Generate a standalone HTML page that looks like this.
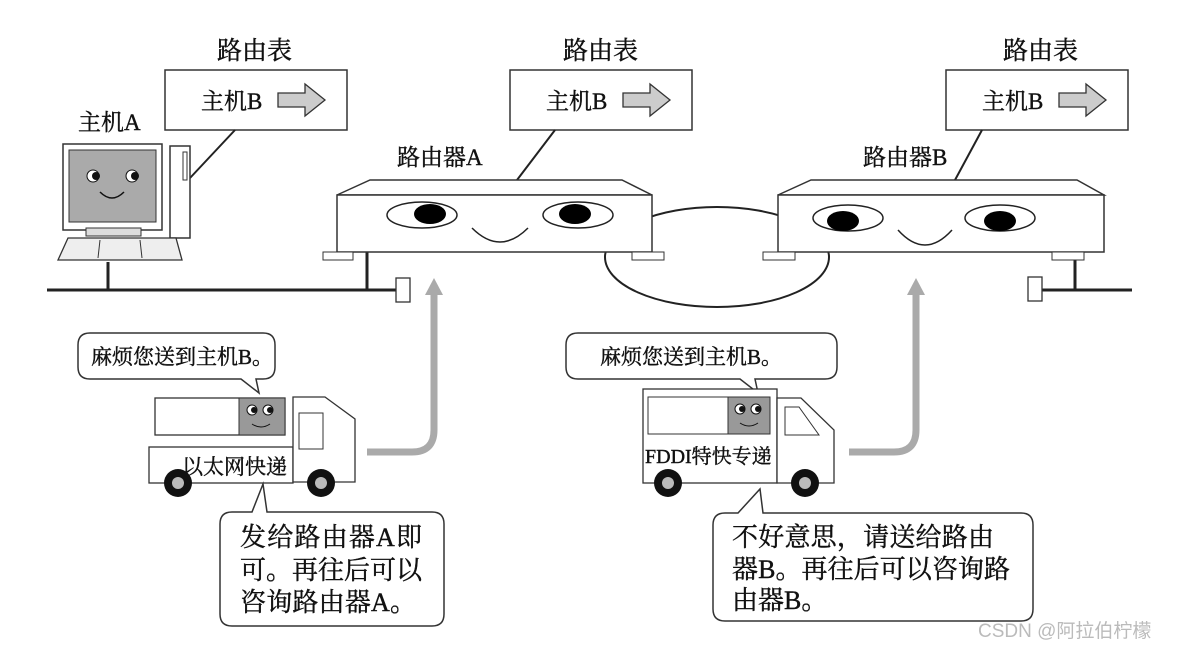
<!DOCTYPE html>
<html><head><meta charset="utf-8"><style>
html,body{margin:0;padding:0;background:#fff;}
svg{display:block;}
text{font-family:"Liberation Serif","Noto Serif CJK SC","Noto Sans CJK SC",serif;fill:#111;stroke:#111;stroke-width:0.4;}
</style></head><body>
<svg width="1179" height="649" viewBox="0 0 1179 649" xmlns="http://www.w3.org/2000/svg">
<defs>
<g id="tbl">
  <rect x="0" y="0" width="182" height="60" fill="#fff" stroke="#333" stroke-width="1.5"/>
  <text x="36" y="39" font-size="23">主机B</text>
  <path d="M113,23 h27 v-9 l20,16 l-20,16 v-9 h-27 z" fill="#ccc" stroke="#333" stroke-width="1.3"/>
</g>
<g id="eye">
  <ellipse cx="0" cy="0" rx="35" ry="13" fill="#fff" stroke="#222" stroke-width="1.5"/>
</g>
<g id="wheel">
  <circle r="14" fill="#111"/><circle r="6" fill="#bbb"/>
</g>
</defs>

<text x="217" y="59" font-size="25">路由表</text>
<text x="563" y="59" font-size="25">路由表</text>
<text x="1003" y="59" font-size="25">路由表</text>
<use href="#tbl" x="165" y="70"/>
<use href="#tbl" x="510" y="70"/>
<use href="#tbl" x="946" y="70"/>
<text x="78" y="130" font-size="23">主机A</text>
<text x="397" y="165" font-size="23">路由器A</text>
<text x="863" y="165" font-size="23">路由器B</text>

<line x1="190" y1="178" x2="235" y2="130" stroke="#222" stroke-width="2"/>
<line x1="517" y1="180" x2="555" y2="130" stroke="#222" stroke-width="2"/>
<line x1="955" y1="180" x2="982" y2="130" stroke="#222" stroke-width="2"/>

<line x1="47" y1="290" x2="398" y2="290" stroke="#222" stroke-width="3"/>
<line x1="108" y1="262" x2="108" y2="290" stroke="#222" stroke-width="3"/>
<line x1="367" y1="252" x2="367" y2="290" stroke="#222" stroke-width="3"/>
<rect x="396" y="278" width="14" height="24" fill="#fff" stroke="#333" stroke-width="1.3"/>
<line x1="1042" y1="290" x2="1132" y2="290" stroke="#222" stroke-width="3"/>
<line x1="1075" y1="252" x2="1075" y2="290" stroke="#222" stroke-width="3"/>
<rect x="1028" y="277" width="14" height="24" fill="#fff" stroke="#333" stroke-width="1.3"/>

<ellipse cx="717" cy="257" rx="112" ry="50" fill="none" stroke="#222" stroke-width="2"/>

<rect x="63" y="144" width="99" height="86" fill="#fff" stroke="#333" stroke-width="1.5"/>
<rect x="69" y="150" width="87" height="72" fill="#aaa" stroke="#333" stroke-width="1"/>
<circle cx="93" cy="176" r="6" fill="#fff" stroke="#111"/><circle cx="96" cy="176" r="4" fill="#111"/>
<circle cx="132" cy="176" r="6" fill="#fff" stroke="#111"/><circle cx="135" cy="176" r="4" fill="#111"/>
<path d="M100,192 q12,12 24,0" fill="none" stroke="#111" stroke-width="1.5"/>
<rect x="86" y="228" width="55" height="8" fill="#ddd" stroke="#333"/>
<rect x="170" y="146" width="20" height="92" fill="#fff" stroke="#333" stroke-width="1.5"/>
<rect x="183" y="152" width="4" height="28" fill="#fff" stroke="#333"/>
<path d="M68,238 h108 l6,22 h-124 z" fill="#eee" stroke="#333" stroke-width="1.3"/>
<line x1="100" y1="240" x2="98" y2="258" stroke="#333"/><line x1="140" y1="240" x2="142" y2="258" stroke="#333"/>

<g>
<polygon points="337,195 370,180 622,180 652,195" fill="#fff" stroke="#333" stroke-width="1.5"/>
<rect x="337" y="195" width="315" height="57" fill="#fff" stroke="#333" stroke-width="1.5"/>
<rect x="323" y="252" width="30" height="8" fill="#fff" stroke="#333"/>
<rect x="632" y="252" width="32" height="8" fill="#fff" stroke="#333"/>
<use href="#eye" x="422" y="215"/><ellipse cx="430" cy="214" rx="16" ry="10" fill="#000"/>
<use href="#eye" x="578" y="215"/><ellipse cx="575" cy="214" rx="16" ry="10" fill="#000"/>
<path d="M472,228 q28,28 56,0" fill="none" stroke="#222" stroke-width="1.5"/>
</g>
<g>
<polygon points="778,195 811,180 1077,180 1104,195" fill="#fff" stroke="#333" stroke-width="1.5"/>
<rect x="778" y="195" width="326" height="57" fill="#fff" stroke="#333" stroke-width="1.5"/>
<rect x="763" y="252" width="32" height="8" fill="#fff" stroke="#333"/>
<rect x="1052" y="252" width="32" height="8" fill="#fff" stroke="#333"/>
<use href="#eye" x="848" y="218"/><ellipse cx="843" cy="221" rx="16" ry="10" fill="#000"/>
<use href="#eye" x="1000" y="218"/><ellipse cx="1000" cy="221" rx="16" ry="10" fill="#000"/>
<path d="M898,230 q27,30 54,0" fill="none" stroke="#222" stroke-width="1.5"/>
</g>

<path d="M367,452 h45 q22,0 22,-22 v-140" fill="none" stroke="#aaa" stroke-width="7"/>
<polygon points="425,295 434,278 443,295" fill="#aaa"/>
<path d="M849,452 h45 q22,0 22,-22 v-140" fill="none" stroke="#aaa" stroke-width="7"/>
<polygon points="907,295 916,278 925,295" fill="#aaa"/>

<path d="M90,333 h173 q12,0 12,12 v22 q0,12 -12,12 h-7 l3,14 l-18,-14 h-151 q-12,0 -12,-12 v-22 q0,-12 12,-12 z" fill="#fff" stroke="#333" stroke-width="1.5"/>
<text x="91" y="364" font-size="21">麻烦您送到主机B。</text>
<rect x="155" y="398" width="130" height="37" fill="#fff" stroke="#333" stroke-width="1.3"/>
<rect x="239" y="398" width="46" height="37" fill="#999" stroke="#333"/>
<circle cx="252" cy="410" r="5" fill="#fff" stroke="#111"/><circle cx="254" cy="410" r="3" fill="#111"/>
<circle cx="268" cy="410" r="5" fill="#fff" stroke="#111"/><circle cx="270" cy="410" r="3" fill="#111"/>
<path d="M252,424 q9,6 18,0" fill="none" stroke="#111"/>
<rect x="149" y="447" width="144" height="36" fill="#fff" stroke="#333" stroke-width="1.3"/>
<path d="M293,397 h32 l30,22 v63 h-62 z" fill="#fff" stroke="#333" stroke-width="1.3"/>
<rect x="299" y="413" width="24" height="36" fill="#fff" stroke="#333"/>
<text x="182" y="474" font-size="21">以太网快递</text>
<use href="#wheel" x="178" y="483"/><use href="#wheel" x="321" y="483"/>
<path d="M263,484 l4,28 h165 q12,0 12,12 v90 q0,12 -12,12 h-200 q-12,0 -12,-12 v-90 q0,-12 12,-12 h20 z" fill="#fff" stroke="#333" stroke-width="1.5"/>
<text x="240" y="546" font-size="26" textLength="182">发给路由器A即</text>
<text x="240" y="579" font-size="26" textLength="182">可。再往后可以</text>
<text x="240" y="611" font-size="26" textLength="176">咨询路由器A。</text>

<path d="M578,333 h247 q12,0 12,12 v22 q0,12 -12,12 h-70 l3,14 l-18,-14 h-162 q-12,0 -12,-12 v-22 q0,-12 12,-12 z" fill="#fff" stroke="#333" stroke-width="1.5"/>
<text x="600" y="364" font-size="21">麻烦您送到主机B。</text>
<rect x="643" y="389" width="134" height="94" fill="#fff" stroke="#333" stroke-width="1.3"/>
<rect x="648" y="397" width="122" height="37" fill="#fff" stroke="#333"/>
<rect x="728" y="397" width="42" height="37" fill="#999" stroke="#333"/>
<circle cx="740" cy="409" r="5" fill="#fff" stroke="#111"/><circle cx="742" cy="409" r="3" fill="#111"/>
<circle cx="756" cy="409" r="5" fill="#fff" stroke="#111"/><circle cx="758" cy="409" r="3" fill="#111"/>
<path d="M740,423 q9,6 18,0" fill="none" stroke="#111"/>
<path d="M777,398 h24 l33,32 v53 h-57 z" fill="#fff" stroke="#333" stroke-width="1.3"/>
<path d="M785,407 h14 l20,28 h-34 z" fill="#fff" stroke="#333"/>
<text x="645" y="463" font-size="20">FDDI特快专递</text>
<use href="#wheel" x="668" y="483"/><use href="#wheel" x="805" y="483"/>
<path d="M760,489 l3,24 h258 q12,0 12,12 v84 q0,12 -12,12 h-296 q-12,0 -12,-12 v-84 q0,-12 12,-12 h13 z" fill="#fff" stroke="#333" stroke-width="1.5"/>
<text x="732" y="546" font-size="26" textLength="262">不好意思，请送给路由</text>
<text x="732" y="578" font-size="26" textLength="278">器B。再往后可以咨询路</text>
<text x="732" y="609" font-size="26">由器B。</text>

<text x="978" y="637" font-size="19" style="fill:#bbb;stroke:none;font-family:'Liberation Sans','Noto Sans CJK SC',sans-serif">CSDN @阿拉伯柠檬</text>
</svg>
</body></html>
